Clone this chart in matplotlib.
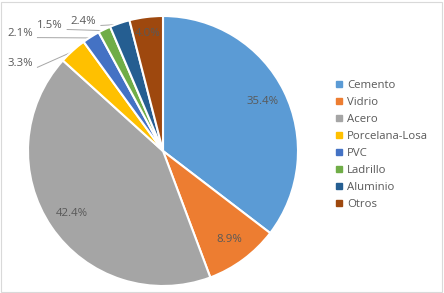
import matplotlib.pyplot as plt
from matplotlib.patches import Rectangle
import numpy as np

materiales = ["Cemento", "Vidrio", "Acero", "Porcelana-Losa", "PVC", "Ladrillo", "Aluminio", "Otros"]
porcentajes = [35.4, 8.9, 42.4, 3.3, 2.1, 1.5, 2.4, 4.0]
colores = ["#5B9BD5", "#ED7D31", "#A5A5A5", "#FFC000", "#4472C4", "#70AD47", "#255E91", "#9E480E"]

# posiciones de las etiquetas fuera del pastel (coordenadas de datos, radio = 1)
etiquetas_fuera = {
    "Porcelana-Losa": (-1.06, 0.65),
    "PVC": (-1.06, 0.87),
    "Ladrillo": (-0.84, 0.93),
    "Aluminio": (-0.59, 0.96),
}
pos_otros = (-0.11, 0.87)

plt.rcParams['font.family'] = ['Open Sans', 'DejaVu Sans']
gris_texto = "#595959"

fig = plt.figure(figsize=(4.44, 2.93), dpi=100)
fig.patches.append(Rectangle((0.002, 0.003), 0.993, 0.99, transform=fig.transFigure,
                             fill=False, edgecolor="#D9D9D9", linewidth=0.8))

ax = fig.add_axes([28 / 444, 7 / 293, 270 / 444, 270 / 293])
wedges, textos, pcts = ax.pie(porcentajes, colors=colores, startangle=90, counterclock=False,
                              autopct="%.1f%%", pctdistance=0.82,
                              wedgeprops=dict(edgecolor="white", linewidth=1.5),
                              textprops=dict(color=gris_texto, fontsize=8.2))
ax.set_xlim(-1, 1)
ax.set_ylim(-1, 1)
ax.set_aspect("equal")

for w, t, nombre in zip(wedges, pcts, materiales):
    if nombre in etiquetas_fuera:
        x, y = etiquetas_fuera[nombre]
        t.set_position((x, y))
        t.set_ha("center")
        ang = np.deg2rad((w.theta1 + w.theta2) / 2)
        ax.plot([x + 0.13, np.cos(ang)], [y - 0.03, np.sin(ang) * 0.99], color="#A6A6A6",
                linewidth=0.7, clip_on=False, zorder=0)
    elif nombre == "Otros":
        t.set_position(pos_otros)

manejadores = [plt.Line2D([], [], marker="s", linestyle="", markersize=4.5,
                          markerfacecolor=c, markeredgecolor=c) for c in colores]
fig.legend(manejadores, materiales, loc="upper left", bbox_to_anchor=(322 / 444, 1 - 70 / 293),
           frameon=False, fontsize=8.2, labelcolor=gris_texto, handletextpad=0.1,
           labelspacing=0.52, handlelength=1.2)

fig.savefig("out.png", dpi=100)
